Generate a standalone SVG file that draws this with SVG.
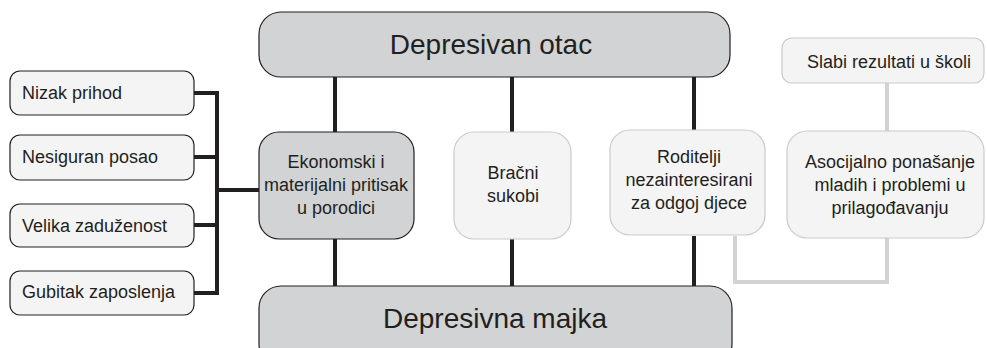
<svg xmlns="http://www.w3.org/2000/svg" width="987" height="348" viewBox="0 0 987 348">
<style>
text{font-family:"Liberation Sans",Arial,sans-serif;fill:#231f20;}
.s{font-size:18px;}
.m{font-size:18px;text-anchor:middle;}
.t{font-size:28px;text-anchor:middle;}
.dark{fill:#d1d3d4;stroke:#231f20;stroke-width:1.2;}
.lt{fill:#f4f4f5;stroke:#231f20;stroke-width:1.2;}
.lg{fill:#f4f4f5;stroke:#c9cacb;stroke-width:1.2;}
.k{stroke:#231f20;stroke-width:4;fill:none;}
.g{stroke:#d1d3d4;stroke-width:4;fill:none;}
</style>
<g id="connectors">
<path class="k" d="M194 93H217M194 157H217M194 225H217M194 293H217M217 91V295M217 190H259"/>
<path class="k" d="M335 77V132M512 77V132M694 77V130M335 239V286M512 239V286M694 236V286"/>
<path class="g" d="M887 83V131M735 236V282H887V238"/>
</g>
<g id="otac"><rect class="dark" x="259" y="12" width="471" height="65" rx="22"/><text class="t" x="491" y="54">Depresivan otac</text></g>
<g id="majka"><rect class="dark" x="259" y="286" width="473" height="80" rx="22"/><text class="t" x="495" y="328">Depresivna majka</text></g>
<g id="n1"><rect class="lt" x="10" y="71" width="184" height="44" rx="10"/><text class="s" x="22" y="99">Nizak prihod</text></g>
<g id="n2"><rect class="lt" x="10" y="135" width="184" height="45" rx="10"/><text class="s" x="22" y="163">Nesiguran posao</text></g>
<g id="n3"><rect class="lt" x="10" y="204" width="184" height="43" rx="10"/><text class="s" x="22" y="232">Velika zaduženost</text></g>
<g id="n4"><rect class="lt" x="10" y="271" width="184" height="44" rx="10"/><text class="s" x="22" y="298">Gubitak zaposlenja</text></g>
<g id="eko"><rect class="dark" x="259" y="132" width="155" height="107" rx="20"/><text class="m" x="336" y="168">Ekonomski i</text><text class="m" x="336" y="191">materijalni pritisak</text><text class="m" x="336" y="214">u porodici</text></g>
<g id="bracni"><rect class="lg" x="454" y="132" width="117" height="107" rx="20"/><text class="m" x="513" y="179">Bračni</text><text class="m" x="513" y="202">sukobi</text></g>
<g id="roditelji"><rect class="lg" x="610" y="130" width="155" height="105" rx="20"/><text class="m" x="689" y="163">Roditelji</text><text class="m" x="689" y="186">nezainteresirani</text><text class="m" x="689" y="209">za odgoj djece</text></g>
<g id="asocijalno"><rect class="lg" x="787" y="131" width="197" height="107" rx="20"/><text class="m" x="890" y="168">Asocijalno ponašanje</text><text class="m" x="890" y="191">mladih i problemi u</text><text class="m" x="890" y="214">prilagođavanju</text></g>
<g id="slabi"><rect class="lg" x="782" y="38" width="202" height="45" rx="10"/><text class="m" x="889" y="68">Slabi rezultati u školi</text></g>
</svg>
